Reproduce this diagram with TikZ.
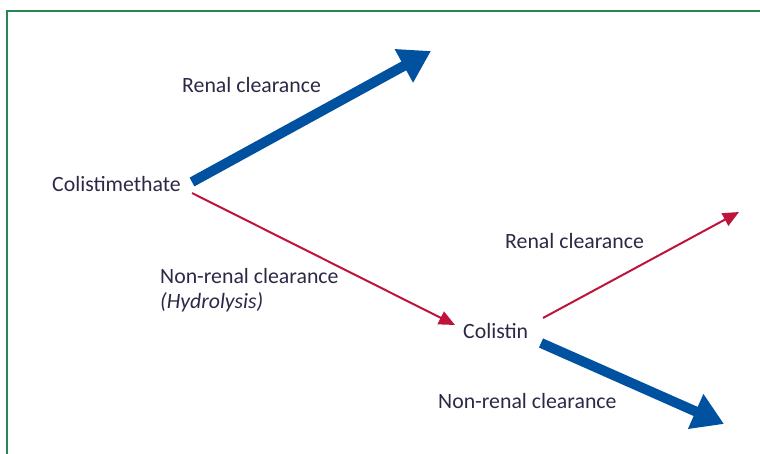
\documentclass[tikz,border=0pt]{standalone}
\usepackage{fontspec}
\setmainfont{Carlito}
\usetikzlibrary{arrows.meta}
\definecolor{frameG}{RGB}{40,135,80}
\definecolor{thickB}{RGB}{0,82,160}
\definecolor{thinR}{RGB}{190,20,60}
\definecolor{txt}{RGB}{45,40,70}
\begin{document}
\begin{tikzpicture}[x=1pt,y=1pt,
  lbl/.style={anchor=west,inner sep=0pt,text=txt,font=\fontsize{21.8}{25}\selectfont},
  bigarrow/.style={draw=thickB,line width=10pt,-{Triangle[length=31pt,width=36pt]},fill=thickB},
  thinarrow/.style={draw=thinR,line width=2pt,-{Triangle[length=16pt,width=14pt]},fill=thinR}]
\useasboundingbox (0,0) rectangle (760,-454);
\begin{scope}
\clip (0,0) rectangle (760,-454);
\draw[frameG,line width=2.5pt] (7,-11) rectangle (780,-480);
\end{scope}
% nodes
\node[lbl] (cms) at (52,-184) {Colistimethate};
\node[lbl] (rc1) at (182,-85) {Renal clearance};
\node[lbl,align=left] (nrc1) at (160,-290.5) {Non-renal clearance\\\textit{(Hydrolysis)}};
\node[lbl] (col) at (463,-331) {Colistin};
\node[lbl] (rc2) at (505,-241) {Renal clearance};
\node[lbl] (nrc2) at (438,-401) {Non-renal clearance};
% arrow end points
\coordinate (b1s) at (192,-182);
\coordinate (b1e) at (431,-51);
\coordinate (r1s) at (192,-193);
\coordinate (r1e) at (455,-325);
\coordinate (r2s) at (543,-318);
\coordinate (r2e) at (739,-212);
\coordinate (b2s) at (541,-343);
\coordinate (b2e) at (724,-424);
% arrows
\draw[bigarrow] (b1s) -- (b1e);
\draw[thinarrow] (r1s) -- (r1e);
\draw[thinarrow] (r2s) -- (r2e);
\draw[bigarrow] (b2s) -- (b2e);
\end{tikzpicture}
\end{document}
